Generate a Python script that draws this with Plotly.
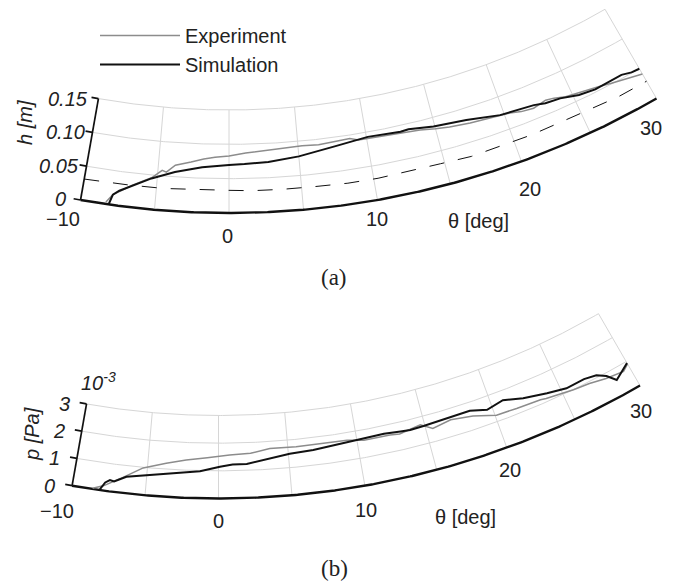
import numpy as np
import plotly.graph_objects as go

# ---------------- data ----------------
# (a) free-surface height h [m] versus angle theta [deg]
theta_sim_a = [-8.1, -7.9, -7.5, -6.7, -5.4, -3.8, -1.9, 0.0, 1.1, 2.8, 5.0, 7.7, 10.1,
               12.5, 13.1, 14.9, 17.3, 19.7, 22.2, 23.0, 24.1, 25.4, 26.6, 28.7, 29.4, 30.0]
h_sim_a = [0.000, 0.015, 0.022, 0.031, 0.045, 0.057, 0.066, 0.070, 0.071, 0.073, 0.078, 0.087, 0.093,
           0.091, 0.092, 0.087, 0.083, 0.074, 0.070, 0.066, 0.064, 0.057, 0.054, 0.055, 0.051, 0.050]

theta_exp_a = [-8.3, -7.9, -7.4, -6.7, -5.4, -5.0, -4.7, -4.4, -3.8, -2.7, -1.8, -1.0, 0.0, 1.2, 2.8,
               4.0, 5.3, 6.5, 7.7, 8.8, 9.4, 10.1, 11.2, 12.4, 13.9, 15.0, 16.0, 17.5, 18.5, 19.4,
               20.4, 21.2, 22.1, 23.1, 23.7, 24.5, 25.3, 26.1, 27.0, 27.8, 29.0, 30.0]
h_exp_a = [0.003, 0.015, 0.022, 0.032, 0.046, 0.053, 0.058, 0.056, 0.067, 0.073, 0.078, 0.081, 0.083,
           0.087, 0.090, 0.091, 0.093, 0.092, 0.094, 0.095, 0.091, 0.091, 0.090, 0.089, 0.087, 0.083,
           0.080, 0.077, 0.076, 0.074, 0.072, 0.068, 0.066, 0.070, 0.068, 0.063, 0.061, 0.058, 0.055,
           0.051, 0.046, 0.041]

theta_ref_a = [-10, -7, -4.5, -2, 0, 1.6, 3.7, 5.9, 8.2, 10.3, 12.2, 14.7, 16.9, 19.1, 21.3, 23.5,
               25.5, 27.8, 30]
h_ref_a = [0.031, 0.032, 0.032, 0.033, 0.033, 0.032, 0.032, 0.032, 0.031, 0.031, 0.032, 0.032, 0.030,
           0.031, 0.031, 0.032, 0.031, 0.029, 0.029]

# (b) pressure p [Pa] (x 1e-3) versus angle theta [deg]
theta_sim_b = [-8.1, -7.8, -7.5, -7.2, -6.4, -5.0, -2.9, -1.3, 0.1, 1.0, 2.0, 3.2, 5.1, 6.8, 8.5,
               10.5, 12.0, 13.2, 13.9, 14.9, 16.7, 18.4, 19.6, 20.9, 22.3, 24.0, 25.4, 26.8, 27.7,
               28.3, 28.8, 30.0]
p_sim_b = [0.03, 0.30, 0.41, 0.38, 0.60, 0.73, 0.87, 0.98, 1.15, 1.22, 1.23, 1.35, 1.50, 1.55, 1.63,
           1.67, 1.71, 1.66, 1.63, 1.65, 1.69, 1.70, 1.53, 1.66, 1.45, 1.28, 1.15, 1.17, 1.09,
           0.89, 0.59, 0.94]

theta_exp_b = [-8.6, -7.9, -6.8, -5.3, -3.7, -2.3, -0.8, 0.8, 2.3, 3.7, 5.6, 7.6, 9.3, 10.5, 12.4,
               13.1, 14.7, 15.5, 16.9, 18.5, 20.1, 21.6, 23.4, 23.8, 25.8, 27.0, 28.2, 29.5, 30.0]
p_exp_b = [0.03, 0.17, 0.51, 0.98, 1.21, 1.37, 1.47, 1.57, 1.61, 1.75, 1.73, 1.74, 1.73, 1.62, 1.62,
           1.58, 1.72, 1.48, 1.60, 1.48, 1.23, 1.20, 1.16, 1.12, 0.99, 0.94, 0.82, 0.74, 0.90]

theta_ticks = [-10, 0, 10, 20, 30]
theta_grid = [-5, 0, 5, 10, 15, 20, 25, 30]
h_ticks = [0, 0.05, 0.10, 0.15]
h_ticklabels = ["0", "0.05", "0.10", "0.15"]
p_ticks = [0, 1, 2, 3]
p_ticklabels = ["0", "1", "2", "3"]

# ---------------- geometry of the two curved (polar sector) panels ----------------
GA = dict(cx=229.0, cy=-642.0, r_out=855.0, r_in=752.0, vmax=0.15, tmin=-10, tmax=30)
GB = dict(cx=218.5, cy=-344.5, r_out=843.0, r_in=760.0, vmax=3.0, tmin=-10, tmax=30)

PAGE_OFFSET = 8  # the browser's default body margin


def proj(theta, val, g):
    """polar (theta [deg], radial value) -> page coordinates; value 0 at outer arc."""
    theta = np.asarray(theta, dtype=float)
    val = np.asarray(val, dtype=float)
    r = g["r_out"] - (g["r_out"] - g["r_in"]) * val / g["vmax"]
    t = np.radians(theta)
    return g["cx"] + r * np.sin(t), g["cy"] + r * np.cos(t)


GRID = "#d6d6d6"
EXP = "#8c8c8c"
FONT = "Liberation Sans, Arial, sans-serif"

fig = go.Figure()


def add_frame(g, ticks):
    xs, ys = [], []
    tt = np.linspace(g["tmin"], g["tmax"], 300)
    for v in ticks[1:]:
        x, y = proj(tt, np.full_like(tt, v), g)
        xs += list(x) + [None]
        ys += list(y) + [None]
    for t in theta_grid:
        x, y = proj([t, t], [0, g["vmax"]], g)
        xs += list(x) + [None]
        ys += list(y) + [None]
    fig.add_trace(go.Scatter(x=xs, y=ys, mode="lines", line=dict(color=GRID, width=1),
                             hoverinfo="skip", showlegend=False))
    # outer (theta) axis line
    x, y = proj(tt, np.zeros_like(tt), g)
    fig.add_trace(go.Scatter(x=x, y=y, mode="lines", line=dict(color="#111", width=2.4),
                             hoverinfo="skip", showlegend=False))
    # radial axis line with tick marks
    xs, ys = [], []
    x, y = proj([g["tmin"], g["tmin"]], [0, g["vmax"]], g)
    xs += list(x) + [None]
    ys += list(y) + [None]
    for v in ticks:
        r = g["r_out"] - (g["r_out"] - g["r_in"]) * v / g["vmax"]
        dt = np.degrees(7.0 / r)
        x, y = proj([g["tmin"], g["tmin"] - dt], [v, v], g)
        xs += list(x) + [None]
        ys += list(y) + [None]
    fig.add_trace(go.Scatter(x=xs, y=ys, mode="lines", line=dict(color="#111", width=1.7),
                             hoverinfo="skip", showlegend=False))


add_frame(GA, h_ticks)
add_frame(GB, p_ticks)

# data curves
x, y = proj(theta_ref_a, h_ref_a, GA)
fig.add_trace(go.Scatter(x=x, y=y, mode="lines", line=dict(color="#111", width=1, dash="15px,14px"),
                         hoverinfo="skip", showlegend=False))
x, y = proj(theta_exp_a, h_exp_a, GA)
fig.add_trace(go.Scatter(x=x, y=y, mode="lines", name="Experiment",
                         line=dict(color=EXP, width=1.5)))
x, y = proj(theta_sim_a, h_sim_a, GA)
fig.add_trace(go.Scatter(x=x, y=y, mode="lines", name="Simulation",
                         line=dict(color="#111", width=2)))
x, y = proj(theta_exp_b, p_exp_b, GB)
fig.add_trace(go.Scatter(x=x, y=y, mode="lines", line=dict(color=EXP, width=1.5),
                         hoverinfo="skip", showlegend=False))
x, y = proj(theta_sim_b, p_sim_b, GB)
fig.add_trace(go.Scatter(x=x, y=y, mode="lines", line=dict(color="#111", width=2),
                         hoverinfo="skip", showlegend=False))

ann = []


def label(x, y, text, xanchor="center", size=20, family=FONT, angle=0):
    ann.append(dict(x=float(x), y=float(y), xref="x", yref="y", text=text, showarrow=False,
                    xanchor=xanchor, yanchor="middle", textangle=angle,
                    font=dict(family=family, size=size, color="#222")))


# radial tick labels (italic)
a_shift = [(-13, -1), (-5, 0), (-5, 0), (-8, 0)]
for v, s, (dx, dy) in zip(h_ticks, h_ticklabels, a_shift):
    x, y = proj(GA["tmin"], v, GA)
    label(x + dx, y + dy, "<i>%s</i>" % s, xanchor="right")
b_shift = [(-15, 0), (-15, 0), (-15, 0), (-15, 0)]
for v, s, (dx, dy) in zip(p_ticks, p_ticklabels, b_shift):
    x, y = proj(GB["tmin"], v, GB)
    label(x + dx, y + dy, "<i>%s</i>" % s, xanchor="right")

# theta tick labels
ta_shift = [(-18, 19), (-2, 23), (0, 19), (9, 28), (-6, 30)]
tb_shift = [(-15, 25), (0, 22), (1, 24), (3, 22), (1, 25)]
for t, (dx, dy) in zip(theta_ticks, ta_shift):
    x, y = proj(t, 0, GA)
    label(x + dx, y + dy, "\u2212%d" % abs(t) if t < 0 else str(t))
for t, (dx, dy) in zip(theta_ticks, tb_shift):
    x, y = proj(t, 0, GB)
    label(x + dx, y + dy, "\u2212%d" % abs(t) if t < 0 else str(t))

# axis titles
label(478, 221, "\u03b8 [deg]")
label(465, 517, "\u03b8 [deg]")
label(25, 123, "<i>h [m]</i>", angle=-90)
label(32, 434, "<i>p [Pa]</i>", angle=-90)
label(98, 381, "<i>10<sup>-3</sup></i>")
label(334, 277, "(a)", family="Liberation Serif, Times New Roman, serif", size=23)
label(334, 568, "(b)", family="Liberation Serif, Times New Roman, serif", size=23)

W, H = 677 - PAGE_OFFSET, 586 - PAGE_OFFSET
fig.update_layout(
    width=W, height=H, autosize=False,
    margin=dict(l=0, r=0, t=0, b=0),
    paper_bgcolor="white", plot_bgcolor="white",
    xaxis=dict(range=[PAGE_OFFSET, 677], visible=False, fixedrange=True),
    yaxis=dict(range=[586, PAGE_OFFSET], visible=False, fixedrange=True),
    annotations=ann,
    font=dict(family=FONT, size=20, color="#222"),
    legend=dict(x=87 / W, y=1 - 8 / H, xanchor="left", yanchor="top",
                bgcolor="rgba(0,0,0,0)", itemwidth=80, tracegroupgap=0,
                font=dict(family=FONT, size=20, color="#222")),
    showlegend=True,
)

fig.write_html("out.html")
